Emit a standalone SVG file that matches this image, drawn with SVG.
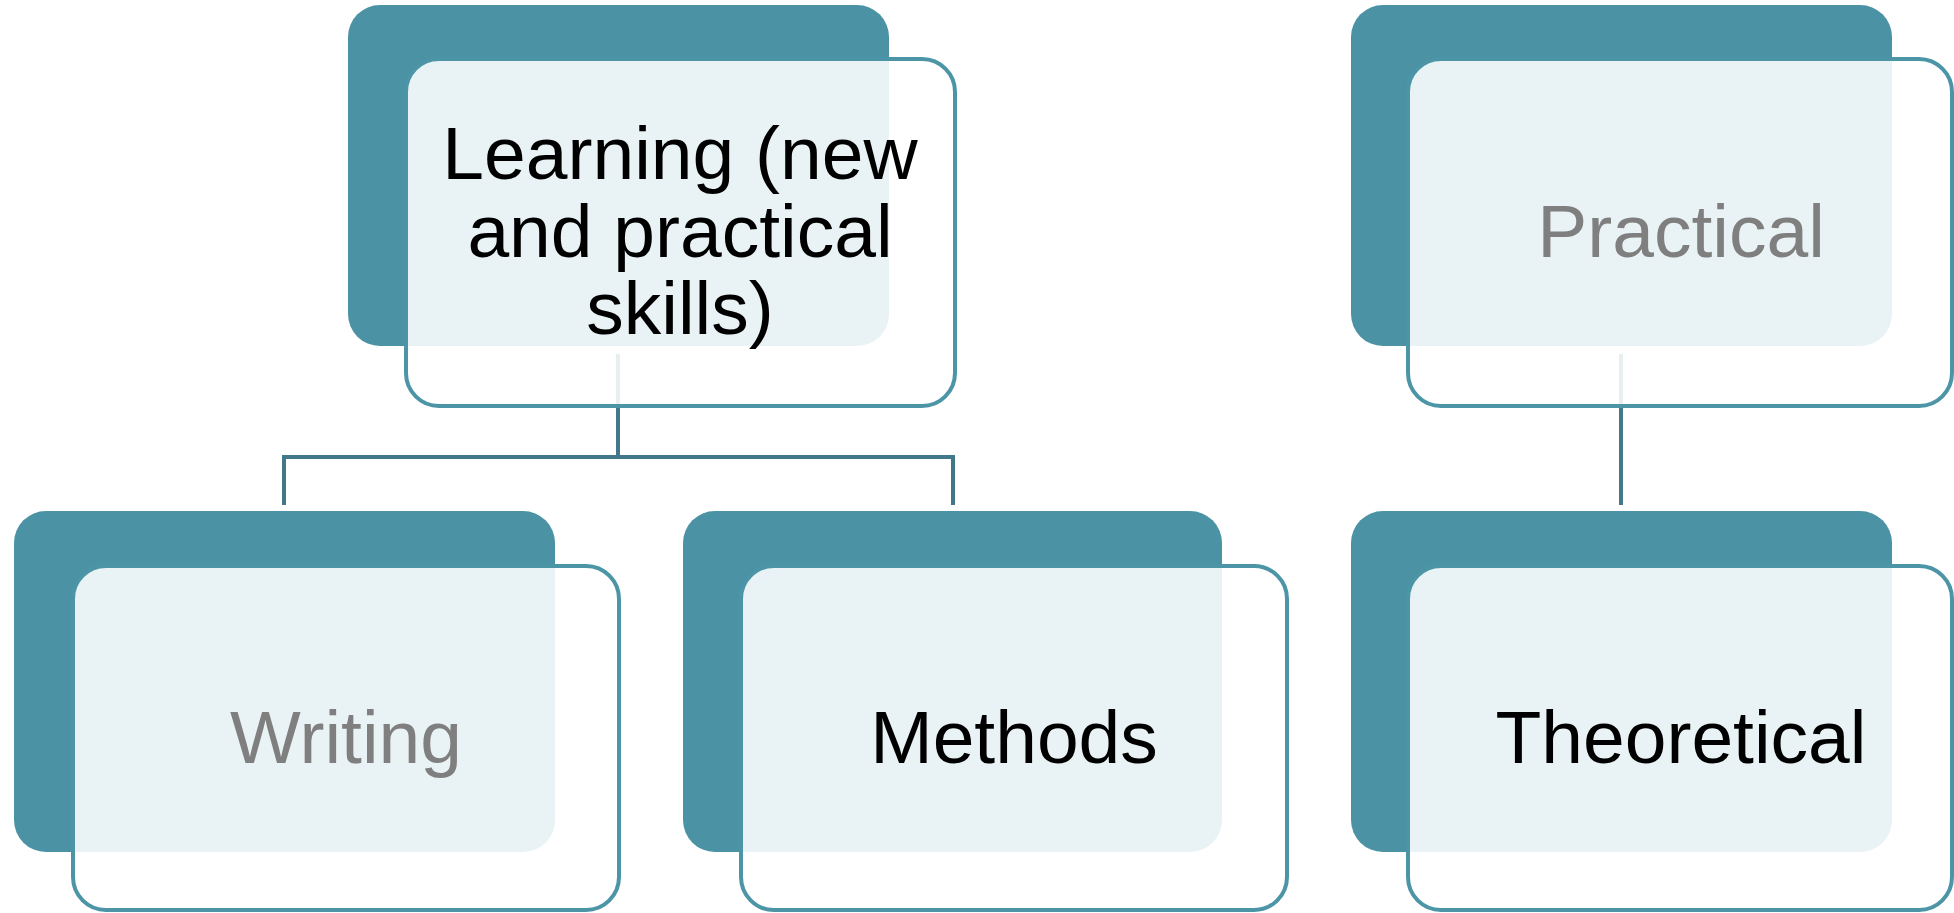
<svg xmlns="http://www.w3.org/2000/svg" width="1954" height="913" viewBox="0 0 1954 913">
<style>
.back{fill:#4B92A5;}
.front{fill:#FFFFFF;fill-opacity:0.88;stroke:#4C95A7;stroke-width:4;}
.conn{fill:none;stroke:#41788A;stroke-width:4;}
.t{font-family:"Liberation Sans",Arial,sans-serif;font-size:75px;text-anchor:middle;}
.dark{fill:#000000;}
.grey{fill:#7F7F7F;}
</style>
<rect width="1954" height="913" fill="#FFFFFF"/>
<g id="connectors">
<polyline class="conn" points="618,354 618,457"/>
<polyline class="conn" points="284,505 284,457 953,457 953,505"/>
<polyline class="conn" points="1621,354 1621,505"/>
</g>
<g id="node-learning">
<rect class="back" x="348" y="5" width="541" height="341" rx="32"/>
<rect class="front" x="406" y="59" width="549" height="347" rx="33"/>
<text class="t dark" x="680" y="179">Learning (new</text>
<text class="t dark" x="680" y="257">and practical</text>
<text class="t dark" x="680" y="334">skills)</text>
</g>
<g id="node-writing">
<rect class="back" x="14" y="511" width="541" height="341" rx="32"/>
<rect class="front" x="73" y="566" width="546" height="344" rx="33"/>
<text class="t grey" x="346" y="763">Writing</text>
</g>
<g id="node-methods">
<rect class="back" x="683" y="511" width="539" height="341" rx="32"/>
<rect class="front" x="741" y="566" width="546" height="344" rx="33"/>
<text class="t dark" x="1014" y="763">Methods</text>
</g>
<g id="node-practical">
<rect class="back" x="1351" y="5" width="541" height="341" rx="32"/>
<rect class="front" x="1408" y="59" width="544" height="347" rx="33"/>
<text class="t grey" x="1681" y="257">Practical</text>
</g>
<g id="node-theoretical">
<rect class="back" x="1351" y="511" width="541" height="341" rx="32"/>
<rect class="front" x="1408" y="566" width="544" height="344" rx="33"/>
<text class="t dark" x="1681" y="763">Theoretical</text>
</g>
</svg>
